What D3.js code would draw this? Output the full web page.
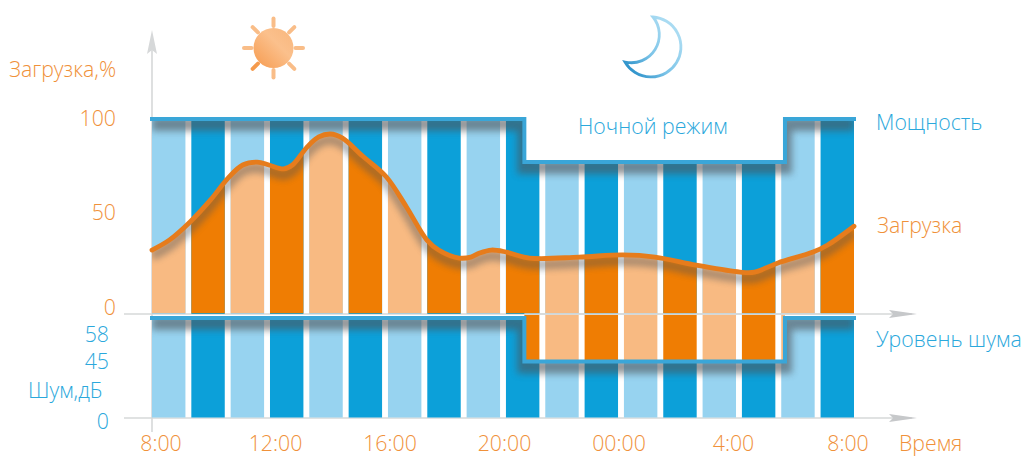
<!DOCTYPE html>
<html><head><meta charset="utf-8">
<script src="https://cdnjs.cloudflare.com/ajax/libs/d3/7.8.5/d3.min.js"></script>
<style>
html,body{margin:0;padding:0;background:#fff;overflow:hidden}
text{font-family:"Open Sans",sans-serif;font-weight:300;font-size:21.3px}
</style></head><body>
<svg id="c" width="1022" height="457"></svg>
<script>
// ---- data ----
const barSlots = d3.range(18);
const timeLabels = ["8:00","12:00","16:00","20:00","00:00","4:00","8:00"];
const loadHours = [8,8.6,9.3,10,10.6,11.1,11.6,12,12.5,12.8,13.3,13.7,14.1,14.5,15.2,16,16.7,17.4,17.8,18.5,18.9,19.2,19.6,20.1,20.9,22.6,24.1,25.2,26.6,28.1,28.6,29.4,30.6,31.1,32];
const loadValues = [32.8,38,47.2,58.5,69.7,76.4,77.9,76.4,74.4,76.4,85.6,90.8,92.3,90.3,81,70.5,54.9,37.9,32.8,28.7,29.2,31.3,32.8,31.8,28.7,29.2,30.3,29.2,25.1,21.5,21.5,26.2,31.8,35.4,45];
const modeHours = [8,20.73,20.73,29.64,29.64,32];
const powerValues = [100,100,78,78,100,100];
const noiseValues = [58,58,45,45,58,58];
const loadTicks = [100,50,0];
const noiseTicks = [58,45,0];

// ---- scales ----
const svg = d3.select("#c");
const x = d3.scaleLinear().domain([8,32]).range([152,854]);
const band = d3.scaleBand().domain(barSlots).range([152,854]).paddingInner(0.15);
const yLoad = d3.scaleLinear().domain([0,100]).range([314,119]);
const yLoadLabel = d3.scaleLinear().domain([0,100]).range([306,117]);
const yNoise = d3.scaleLinear().domain([0,45,58]).range([418,361.5,318]);
const yNoiseLabel = d3.scaleLinear().domain([0,45,58]).range([420,360,333]);
const xLabel = d3.scalePoint().domain(d3.range(timeLabels.length)).range([161,848]);

const C = {lb:"#97d3f0",db:"#0ca0d9",lo:"#f8ba82",do:"#ef7d03",line:"#e67c1c",bl:"#3aa6d8",ax:"#d6d8d9",to:"#f0913a",tb:"#2ba8dc"};

// ---- defs ----
const defs = svg.append("defs");
const blur = (id,s)=>defs.append("filter").attr("id",id).attr("filterUnits","userSpaceOnUse")
  .attr("x",0).attr("y",0).attr("width",1022).attr("height",457)
  .append("feGaussianBlur").attr("stdDeviation",s);
blur("b1",3); blur("b2",3.5);
const pts = (ys,yv)=>modeHours.map((h,i)=>[x(h),yv(ys[i])]);
const lineGen = d3.line();
const loadPts = loadHours.map((h,i)=>[x(h),yLoad(loadValues[i])]);
const crv = d3.curveCatmullRom.alpha(0.5);
const loadLine = d3.line().curve(crv);
const loadArea = d3.area().x(d=>d[0]).y0(yLoad(0)).y1(d=>d[1]).curve(crv);
const stepArea = (ys,yv,base)=>d3.area().x(d=>d[0]).y0(base).y1(d=>d[1])(pts(ys,yv));
defs.append("clipPath").attr("id","cPower").append("path").attr("d",stepArea(powerValues,yLoad,yLoad(0)));
defs.append("clipPath").attr("id","cLoad").append("path").attr("d",loadArea(loadPts));
defs.append("clipPath").attr("id","cNoise").append("path").attr("d",stepArea(noiseValues,yNoise,yNoise(0)));
defs.append("clipPath").attr("id","cNight").append("rect")
  .attr("x",x(modeHours[1])).attr("width",x(modeHours[3])-x(modeHours[1])).attr("y",yLoad(0)).attr("height",yNoise(45)-yLoad(0));

const sunG = defs.append("linearGradient").attr("id","sunG").attr("x1",0).attr("y1",1).attr("x2",1).attr("y2",0);
sunG.append("stop").attr("offset",0).attr("stop-color","#f69a4e");
sunG.append("stop").attr("offset",.6).attr("stop-color","#fbc08c");
sunG.append("stop").attr("offset",1).attr("stop-color","#f8b67c");
const moonG = defs.append("linearGradient").attr("id","moonG").attr("gradientUnits","userSpaceOnUse")
  .attr("x1",628).attr("y1",70).attr("x2",672).attr("y2",30);
moonG.append("stop").attr("offset",0).attr("stop-color","#2a90c9");
moonG.append("stop").attr("offset",.45).attr("stop-color","#7cc4e8");
moonG.append("stop").attr("offset",1).attr("stop-color","#a9dbf2");

// ---- axes ----
const ax = svg.append("g");
ax.append("line").attr("x1",152).attr("x2",152).attr("y1",35).attr("y2",432).attr("stroke",C.ax).attr("stroke-width",1.6);
ax.append("path").attr("d","M152 30 L147 54 L152 50 L157 54 Z").attr("fill",C.ax);
[[yLoad(0),124],[yNoise(0),124]].forEach(([y,x0])=>{
  ax.append("line").attr("x1",x0).attr("x2",912).attr("y1",y).attr("y2",y).attr("stroke",C.ax).attr("stroke-width",1.6);
  ax.append("path").attr("d",`M889 ${y-4} L917 ${y} L889 ${y+4} L893 ${y} Z`).attr("fill","#c6c8ca");
});

// ---- bars: upper panel ----
const tone=(i,a,b)=>i%2?b:a;
svg.append("g").attr("clip-path","url(#cPower)").selectAll("rect").data(barSlots).join("rect")
  .attr("x",d=>band(d)).attr("width",band.bandwidth()).attr("y",yLoad(100)).attr("height",yLoad(0)-yLoad(100))
  .attr("fill",d=>tone(d,C.lb,C.db));
svg.append("g").attr("clip-path","url(#cLoad)").selectAll("rect").data(barSlots).join("rect")
  .attr("x",d=>band(d)).attr("width",band.bandwidth()).attr("y",yLoad(100)).attr("height",yLoad(0)-yLoad(100)-0.8)
  .attr("fill",d=>tone(d,C.lo,C.do));
// ---- bars: lower panel ----
svg.append("g").attr("clip-path","url(#cNoise)").selectAll("rect").data(barSlots).join("rect")
  .attr("x",d=>band(d)).attr("width",band.bandwidth()).attr("y",yNoise(58)).attr("height",yNoise(0)-yNoise(58)-0.5)
  .attr("fill",d=>tone(d,C.lb,C.db));
svg.append("g").attr("clip-path","url(#cNight)").selectAll("rect").data(barSlots).join("rect")
  .attr("x",d=>band(d)).attr("width",band.bandwidth()).attr("y",yLoad(0)+0.8).attr("height",yNoise(45)-yLoad(0))
  .attr("fill",d=>tone(d,C.lo,C.do));

// axis over night bars
svg.append("line").attr("x1",x(modeHours[1])).attr("x2",x(32)).attr("y1",yLoad(0)).attr("y2",yLoad(0)).attr("stroke",C.ax).attr("stroke-width",1.6);

// ---- shadows ----
const shade=(clip,d,dy,w,f,op)=>svg.append("g").attr("clip-path",`url(#${clip})`).append("path").attr("d",d)
  .attr("transform",`translate(0,${dy})`).attr("fill","none").attr("stroke","#4d5358").attr("stroke-width",w).attr("filter",`url(#${f})`).attr("opacity",op);
shade("cPower",lineGen(pts(powerValues,yLoad)),5,14,"b2",.6);
shade("cNoise",lineGen(pts(noiseValues,yNoise)),5,14,"b2",.6);
shade("cLoad",loadLine(loadPts),6,10,"b1",.42);

// ---- lines ----
const stepLine=(ys,yv)=>svg.append("path").attr("d",lineGen(pts(ys,yv))).attr("fill","none").attr("stroke",C.bl).attr("stroke-width",4).attr("stroke-linecap","square");
stepLine(powerValues,yLoad);
stepLine(noiseValues,yNoise);
svg.append("path").attr("d",loadLine(loadPts)).attr("fill","none").attr("stroke",C.line).attr("stroke-width",4.8).attr("stroke-linecap","round");

// ---- text ----
const T=(s,xp,yp,fill,anchor)=>svg.append("text").text(s).attr("x",xp).attr("y",yp).attr("fill",fill).attr("text-anchor",anchor||"start").attr("dominant-baseline","central");
svg.append("g").selectAll("text").data(loadTicks).join("text").text(d=>d)
  .attr("x",116).attr("y",d=>yLoadLabel(d)).attr("text-anchor","end").attr("dominant-baseline","central").attr("fill",C.to);
svg.append("g").selectAll("text").data(noiseTicks).join("text").text(d=>d)
  .attr("x",109).attr("y",d=>yNoiseLabel(d)).attr("text-anchor","end").attr("dominant-baseline","central").attr("fill",C.tb);
svg.append("g").selectAll("text").data(timeLabels).join("text").text(d=>d)
  .attr("x",(d,i)=>xLabel(i)).attr("y",450.5).attr("text-anchor","middle").attr("fill",C.to);
T("Загрузка,%",9,68,C.to);
T("Шум,дБ",28,389,C.tb);
T("Ночной режим",578,125,C.tb);
T("Мощность",876,121,C.tb);
T("Загрузка",877,224,C.to);
T("Уровень шума",876,338,C.tb);
T("Время",899,450.5,C.to).attr("dominant-baseline",null);

// ---- sun & moon ----
const sun=svg.append("g").attr("transform","translate(273.5,48)");
d3.range(8).forEach(i=>{
  sun.append("line").attr("x1",0).attr("x2",0).attr("y1",-22).attr("y2",-29.5).attr("transform",`rotate(${i*45})`)
    .attr("stroke",i===5?"#f59a4c":"#f9bd88").attr("stroke-width",4).attr("stroke-linecap","round");
});
sun.append("circle").attr("r",20).attr("fill","url(#sunG)");
svg.append("path").attr("d","M653 17 A30 30 0 1 1 625 62 A28 28 0 0 0 653 17 Z")
  .attr("fill","#fff").attr("stroke","url(#moonG)").attr("stroke-width",2.8).attr("stroke-linejoin","miter");
</script>
</body></html>
